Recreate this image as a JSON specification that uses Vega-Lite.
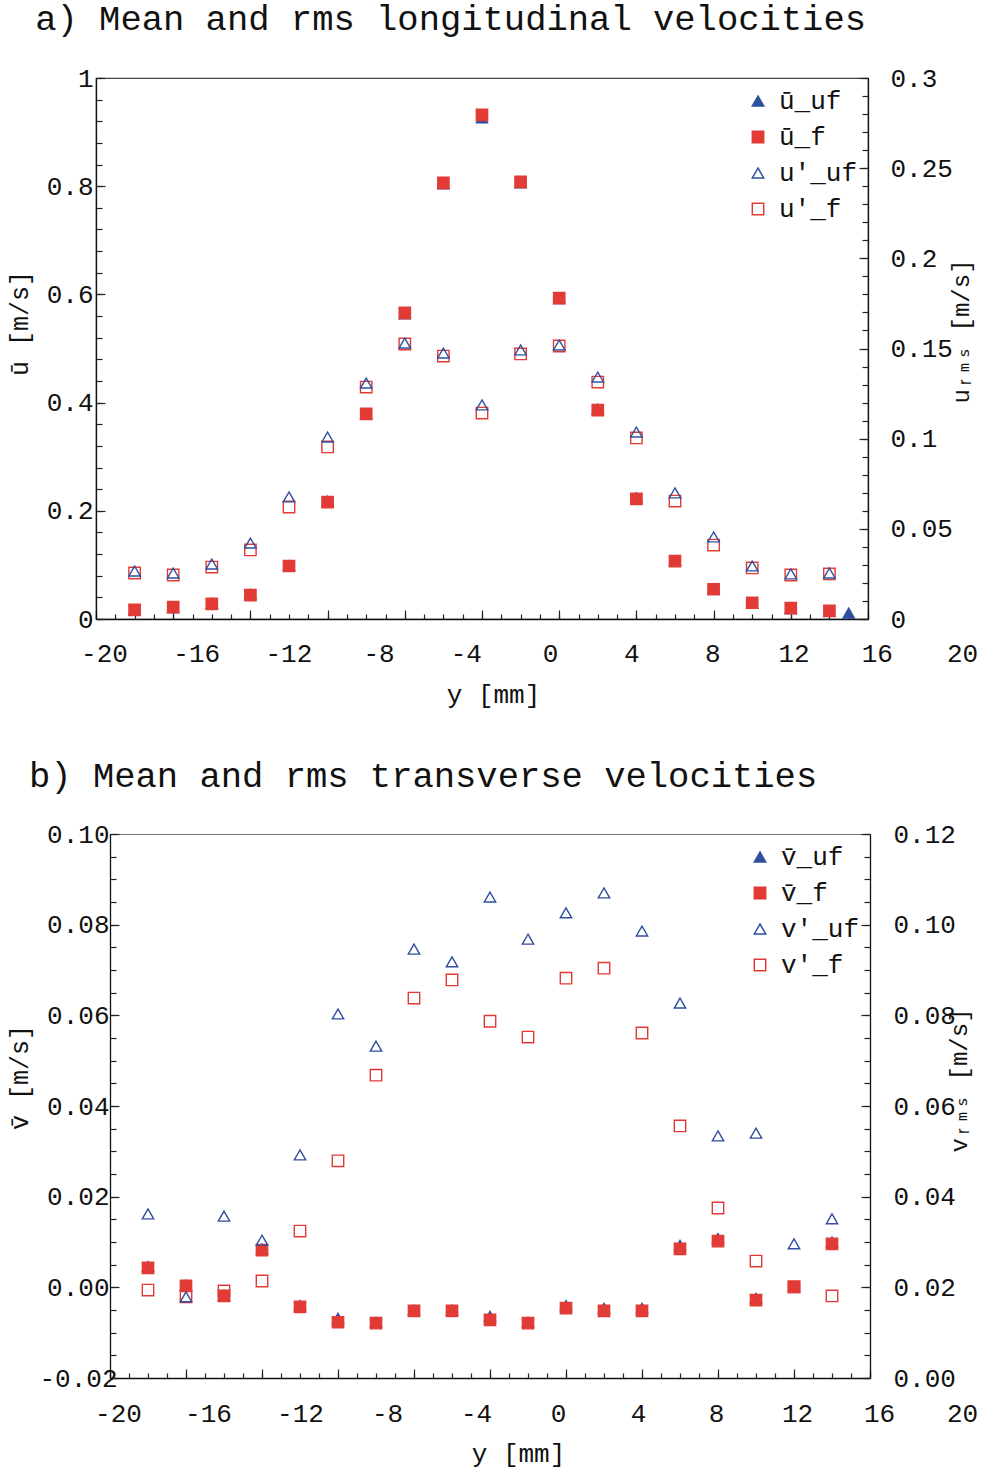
{
  "$schema": "https://vega.github.io/schema/vega-lite/v6.json",
  "padding": {"left": 6, "top": 0, "right": 2, "bottom": 2},
  "background": "white",
  "spacing": 50,
  "config": {
    "view": {"stroke": "#444", "strokeWidth": 1.2},
    "font": "Liberation Mono",
    "axis": {"labelFont": "Liberation Mono", "titleFont": "Liberation Mono", "labelFontSize": 26, "titleFontSize": 25, "titleFontWeight": "normal", "labelColor": "#111", "titleColor": "#111", "domainColor": "#111", "domainWidth": 1.3, "tickColor": "#222", "tickWidth": 1.2, "grid": false, "labelOverlap": false, "labelFlush": false, "labelBound": false},
    "legend": {"orient": "top-right", "offset": 10, "labelFont": "Liberation Mono", "labelFontSize": 26, "labelColor": "#111", "symbolSize": 130, "symbolStrokeWidth": 1.5, "rowPadding": 10, "labelOffset": 8, "padding": 0, "labelLimit": 0},
    "title": {"font": "Liberation Mono", "fontSize": 35.5, "fontWeight": "normal", "color": "#111", "anchor": "start"}
  },
  "resolve": {"scale": {"fill": "independent", "stroke": "independent", "shape": "independent"}, "legend": {"fill": "independent", "stroke": "independent", "shape": "independent"}},
  "vconcat": [
    {
      "width": 772, "height": 541,
      "title": {"text": "a) Mean and rms longitudinal velocities", "offset": 28, "dx": 28},
      "data": {"values": [
        {"k":"muf","s":"ū_uf","x":-18,"v":0.016},{"k":"muf","s":"ū_uf","x":-16,"v":0.021},{"k":"muf","s":"ū_uf","x":-14,"v":0.029},{"k":"muf","s":"ū_uf","x":-12,"v":0.046},{"k":"muf","s":"ū_uf","x":-10,"v":0.099},{"k":"muf","s":"ū_uf","x":-8,"v":0.218},{"k":"muf","s":"ū_uf","x":-6,"v":0.378},{"k":"muf","s":"ū_uf","x":-4,"v":0.564},{"k":"muf","s":"ū_uf","x":-2,"v":0.804},{"k":"muf","s":"ū_uf","x":0,"v":0.926},{"k":"muf","s":"ū_uf","x":2,"v":0.806},{"k":"muf","s":"ū_uf","x":4,"v":0.592},{"k":"muf","s":"ū_uf","x":6,"v":0.388},{"k":"muf","s":"ū_uf","x":8,"v":0.224},{"k":"muf","s":"ū_uf","x":10,"v":0.108},{"k":"muf","s":"ū_uf","x":12,"v":0.056},{"k":"muf","s":"ū_uf","x":14,"v":0.029},{"k":"muf","s":"ū_uf","x":16,"v":0.019},{"k":"muf","s":"ū_uf","x":18,"v":0.014},{"k":"muf","s":"ū_uf","x":19,"v":0.011},
        {"k":"mf","s":"ū_f","x":-18,"v":0.017},{"k":"mf","s":"ū_f","x":-16,"v":0.022},{"k":"mf","s":"ū_f","x":-14,"v":0.028},{"k":"mf","s":"ū_f","x":-12,"v":0.044},{"k":"mf","s":"ū_f","x":-10,"v":0.098},{"k":"mf","s":"ū_f","x":-8,"v":0.216},{"k":"mf","s":"ū_f","x":-6,"v":0.379},{"k":"mf","s":"ū_f","x":-4,"v":0.566},{"k":"mf","s":"ū_f","x":-2,"v":0.806},{"k":"mf","s":"ū_f","x":0,"v":0.932},{"k":"mf","s":"ū_f","x":2,"v":0.808},{"k":"mf","s":"ū_f","x":4,"v":0.593},{"k":"mf","s":"ū_f","x":6,"v":0.386},{"k":"mf","s":"ū_f","x":8,"v":0.222},{"k":"mf","s":"ū_f","x":10,"v":0.107},{"k":"mf","s":"ū_f","x":12,"v":0.055},{"k":"mf","s":"ū_f","x":14,"v":0.03},{"k":"mf","s":"ū_f","x":16,"v":0.02},{"k":"mf","s":"ū_f","x":18,"v":0.015},
        {"k":"ruf","s":"u'_uf","x":-18,"v":0.0266},{"k":"ruf","s":"u'_uf","x":-16,"v":0.0255},{"k":"ruf","s":"u'_uf","x":-14,"v":0.0305},{"k":"ruf","s":"u'_uf","x":-12,"v":0.0421},{"k":"ruf","s":"u'_uf","x":-10,"v":0.0677},{"k":"ruf","s":"u'_uf","x":-8,"v":0.1009},{"k":"ruf","s":"u'_uf","x":-6,"v":0.1308},{"k":"ruf","s":"u'_uf","x":-4,"v":0.153},{"k":"ruf","s":"u'_uf","x":-2,"v":0.1475},{"k":"ruf","s":"u'_uf","x":0,"v":0.1187},{"k":"ruf","s":"u'_uf","x":2,"v":0.1492},{"k":"ruf","s":"u'_uf","x":4,"v":0.1519},{"k":"ruf","s":"u'_uf","x":6,"v":0.1342},{"k":"ruf","s":"u'_uf","x":8,"v":0.1037},{"k":"ruf","s":"u'_uf","x":10,"v":0.0699},{"k":"ruf","s":"u'_uf","x":12,"v":0.0455},{"k":"ruf","s":"u'_uf","x":14,"v":0.0294},{"k":"ruf","s":"u'_uf","x":16,"v":0.025},{"k":"ruf","s":"u'_uf","x":18,"v":0.0255},
        {"k":"rf","s":"u'_f","x":-18,"v":0.0255},{"k":"rf","s":"u'_f","x":-16,"v":0.0244},{"k":"rf","s":"u'_f","x":-14,"v":0.0288},{"k":"rf","s":"u'_f","x":-12,"v":0.0383},{"k":"rf","s":"u'_f","x":-10,"v":0.0621},{"k":"rf","s":"u'_f","x":-8,"v":0.0954},{"k":"rf","s":"u'_f","x":-6,"v":0.1286},{"k":"rf","s":"u'_f","x":-4,"v":0.1525},{"k":"rf","s":"u'_f","x":-2,"v":0.1458},{"k":"rf","s":"u'_f","x":0,"v":0.1142},{"k":"rf","s":"u'_f","x":2,"v":0.147},{"k":"rf","s":"u'_f","x":4,"v":0.1514},{"k":"rf","s":"u'_f","x":6,"v":0.1314},{"k":"rf","s":"u'_f","x":8,"v":0.1004},{"k":"rf","s":"u'_f","x":10,"v":0.0654},{"k":"rf","s":"u'_f","x":12,"v":0.041},{"k":"rf","s":"u'_f","x":14,"v":0.0283},{"k":"rf","s":"u'_f","x":16,"v":0.0244},{"k":"rf","s":"u'_f","x":18,"v":0.025}
      ]},
      "resolve": {"scale": {"x": "independent", "y": "independent"}, "axis": {"x": "independent", "y": "independent"}},
      "layer": [
        {
          "transform": [{"filter": "datum.k == 'muf'"}],
          "mark": {"type": "point", "size": 130, "strokeWidth": 1.3, "opacity": 1},
          "encoding": {
            "x": {"field": "x", "type": "quantitative", "scale": {"domain": [-20, 20], "nice": false, "zero": false},
              "axis": {"orient": "bottom", "values": [-20,-16,-12,-8,-4,0,4,8,12,16,20], "tickSize": -9, "labelPadding": 30, "labelExpr": "'' + datum.value",
                "labelOffset": {"condition": [{"test": "datum.value == -20", "value": 8},{"test": "datum.value == -16", "value": 23},{"test": "datum.value == -12", "value": 38},{"test": "datum.value == -8", "value": 51},{"test": "datum.value == -4", "value": 61},{"test": "datum.value == 0", "value": 68},{"test": "datum.value == 4", "value": 72},{"test": "datum.value == 8", "value": 76},{"test": "datum.value == 12", "value": 80},{"test": "datum.value == 16", "value": 86}], "value": 94},
                "title": "y [mm]", "titleFontSize": 26, "titlePadding": 15, "titleX": 397}},
            "y": {"field": "v", "type": "quantitative", "scale": {"domain": [0, 1], "nice": false, "zero": false},
              "axis": {"orient": "left", "values": [0,0.2,0.4,0.6,0.8,1], "tickSize": -9, "labelPadding": 12, "format": "~g", "title": "ū [m/s]", "titlePadding": 14, "titleY": 245}},
            "fill": {"field": "s", "type": "nominal", "scale": {"domain": ["ū_uf","ū_f","u'_uf","u'_f"], "range": ["#2f4f9f","#e23b36","transparent","transparent"]}, "legend": {"title": null}},
            "stroke": {"field": "s", "type": "nominal", "scale": {"domain": ["ū_uf","ū_f","u'_uf","u'_f"], "range": ["#2f4f9f","#e23b36","#2f4f9f","#e23b36"]}, "legend": {"title": null}},
            "shape": {"field": "s", "type": "nominal", "scale": {"domain": ["ū_uf","ū_f","u'_uf","u'_f"], "range": ["triangle-up","square","triangle-up","square"]}, "legend": {"title": null}}
          }
        },
        {
          "transform": [{"filter": "datum.k == 'mf'"}],
          "mark": {"type": "point", "size": 130, "strokeWidth": 1.3, "opacity": 1},
          "encoding": {
            "x": {"field": "x", "type": "quantitative", "scale": {"domain": [-20, 20], "nice": false, "zero": false},
              "axis": {"orient": "bottom", "values": [-20,-19,-18,-17,-16,-15,-14,-13,-12,-11,-10,-9,-8,-7,-6,-5,-4,-3,-2,-1,0,1,2,3,4,5,6,7,8,9,10,11,12,13,14,15,16,17,18,19,20], "tickSize": -5, "labels": false, "domain": false, "title": null}},
            "y": {"field": "v", "type": "quantitative", "scale": {"domain": [0, 1], "nice": false, "zero": false},
              "axis": {"orient": "left", "values": [0,0.04,0.08,0.12,0.16,0.2,0.24,0.28,0.32,0.36,0.4,0.44,0.48,0.52,0.56,0.6,0.64,0.68,0.72,0.76,0.8,0.84,0.88,0.92,0.96,1], "tickSize": -6, "labels": false, "domain": false, "title": null}},
            "fill": {"field": "s", "type": "nominal", "scale": {"domain": ["ū_uf","ū_f","u'_uf","u'_f"], "range": ["#2f4f9f","#e23b36","transparent","transparent"]}, "legend": {"title": null}},
            "stroke": {"field": "s", "type": "nominal", "scale": {"domain": ["ū_uf","ū_f","u'_uf","u'_f"], "range": ["#2f4f9f","#e23b36","#2f4f9f","#e23b36"]}, "legend": {"title": null}},
            "shape": {"field": "s", "type": "nominal", "scale": {"domain": ["ū_uf","ū_f","u'_uf","u'_f"], "range": ["triangle-up","square","triangle-up","square"]}, "legend": {"title": null}}
          }
        },
        {
          "transform": [{"filter": "datum.k == 'rf'"}],
          "mark": {"type": "point", "size": 130, "strokeWidth": 1.4, "opacity": 1},
          "encoding": {
            "x": {"field": "x", "type": "quantitative", "scale": {"domain": [-20, 20], "nice": false, "zero": false}, "axis": null},
            "y": {"field": "v", "type": "quantitative", "scale": {"domain": [0, 0.3], "nice": false, "zero": false},
              "axis": {"orient": "right", "values": [0,0.05,0.1,0.15,0.2,0.25,0.3], "tickSize": -9, "labelPadding": 31, "format": "~g", "title": "uᵣₘₛ [m/s]", "titleFont": "Liberation Mono, DejaVu Sans Mono, DejaVu Sans", "titleAngle": -90, "titlePadding": 21, "titleY": 253, "titleFontSize": 24}},
            "fill": {"field": "s", "type": "nominal", "scale": {"domain": ["ū_uf","ū_f","u'_uf","u'_f"], "range": ["#2f4f9f","#e23b36","transparent","transparent"]}, "legend": {"title": null}},
            "stroke": {"field": "s", "type": "nominal", "scale": {"domain": ["ū_uf","ū_f","u'_uf","u'_f"], "range": ["#2f4f9f","#e23b36","#2f4f9f","#e23b36"]}, "legend": {"title": null}},
            "shape": {"field": "s", "type": "nominal", "scale": {"domain": ["ū_uf","ū_f","u'_uf","u'_f"], "range": ["triangle-up","square","triangle-up","square"]}, "legend": {"title": null}}
          }
        },
        {
          "transform": [{"filter": "datum.k == 'ruf'"}],
          "mark": {"type": "point", "size": 130, "strokeWidth": 1.4, "opacity": 1},
          "encoding": {
            "x": {"field": "x", "type": "quantitative", "scale": {"domain": [-20, 20], "nice": false, "zero": false}, "axis": null},
            "y": {"field": "v", "type": "quantitative", "scale": {"domain": [0, 0.3], "nice": false, "zero": false},
              "axis": {"orient": "right", "values": [0,0.01,0.02,0.03,0.04,0.05,0.06,0.07,0.08,0.09,0.1,0.11,0.12,0.13,0.14,0.15,0.16,0.17,0.18,0.19,0.2,0.21,0.22,0.23,0.24,0.25,0.26,0.27,0.28,0.29,0.3], "tickSize": -6, "labels": false, "domain": false, "title": null}},
            "fill": {"field": "s", "type": "nominal", "scale": {"domain": ["ū_uf","ū_f","u'_uf","u'_f"], "range": ["#2f4f9f","#e23b36","transparent","transparent"]}, "legend": {"title": null}},
            "stroke": {"field": "s", "type": "nominal", "scale": {"domain": ["ū_uf","ū_f","u'_uf","u'_f"], "range": ["#2f4f9f","#e23b36","#2f4f9f","#e23b36"]}, "legend": {"title": null}},
            "shape": {"field": "s", "type": "nominal", "scale": {"domain": ["ū_uf","ū_f","u'_uf","u'_f"], "range": ["triangle-up","square","triangle-up","square"]}, "legend": {"title": null}}
          }
        }
      ]
    },
    {
      "width": 774, "height": 544,
      "view": {"stroke": null},
      "title": {"text": "b) Mean and rms transverse velocities", "offset": 27, "dx": 21},
      "data": {"values": [
        {"k":"muf","s":"v̄_uf","x":-18,"v":0.0046},{"k":"muf","s":"v̄_uf","x":-16,"v":0.0005},{"k":"muf","s":"v̄_uf","x":-14,"v":-0.0017},{"k":"muf","s":"v̄_uf","x":-12,"v":0.0085},{"k":"muf","s":"v̄_uf","x":-10,"v":-0.004},{"k":"muf","s":"v̄_uf","x":-8,"v":-0.0068},{"k":"muf","s":"v̄_uf","x":-6,"v":-0.0077},{"k":"muf","s":"v̄_uf","x":-4,"v":-0.005},{"k":"muf","s":"v̄_uf","x":-2,"v":-0.005},{"k":"muf","s":"v̄_uf","x":0,"v":-0.0064},{"k":"muf","s":"v̄_uf","x":2,"v":-0.0077},{"k":"muf","s":"v̄_uf","x":4,"v":-0.004},{"k":"muf","s":"v̄_uf","x":6,"v":-0.0046},{"k":"muf","s":"v̄_uf","x":8,"v":-0.0046},{"k":"muf","s":"v̄_uf","x":10,"v":0.0093},{"k":"muf","s":"v̄_uf","x":12,"v":0.0108},{"k":"muf","s":"v̄_uf","x":14,"v":-0.0024},{"k":"muf","s":"v̄_uf","x":16,"v":0.0003},{"k":"muf","s":"v̄_uf","x":18,"v":0.01},
        {"k":"mf","s":"v̄_f","x":-18,"v":0.0043},{"k":"mf","s":"v̄_f","x":-16,"v":0.0003},{"k":"mf","s":"v̄_f","x":-14,"v":-0.0019},{"k":"mf","s":"v̄_f","x":-12,"v":0.0082},{"k":"mf","s":"v̄_f","x":-10,"v":-0.0043},{"k":"mf","s":"v̄_f","x":-8,"v":-0.0077},{"k":"mf","s":"v̄_f","x":-6,"v":-0.0079},{"k":"mf","s":"v̄_f","x":-4,"v":-0.0052},{"k":"mf","s":"v̄_f","x":-2,"v":-0.0052},{"k":"mf","s":"v̄_f","x":0,"v":-0.0072},{"k":"mf","s":"v̄_f","x":2,"v":-0.0079},{"k":"mf","s":"v̄_f","x":4,"v":-0.0046},{"k":"mf","s":"v̄_f","x":6,"v":-0.0052},{"k":"mf","s":"v̄_f","x":8,"v":-0.0052},{"k":"mf","s":"v̄_f","x":10,"v":0.0085},{"k":"mf","s":"v̄_f","x":12,"v":0.0102},{"k":"mf","s":"v̄_f","x":14,"v":-0.0028},{"k":"mf","s":"v̄_f","x":16,"v":0.0001},{"k":"mf","s":"v̄_f","x":18,"v":0.0096},
        {"k":"ruf","s":"v'_uf","x":-18,"v":0.0362},{"k":"ruf","s":"v'_uf","x":-16,"v":0.0179},{"k":"ruf","s":"v'_uf","x":-14,"v":0.0357},{"k":"ruf","s":"v'_uf","x":-12,"v":0.0304},{"k":"ruf","s":"v'_uf","x":-10,"v":0.0492},{"k":"ruf","s":"v'_uf","x":-8,"v":0.0803},{"k":"ruf","s":"v'_uf","x":-6,"v":0.0732},{"k":"ruf","s":"v'_uf","x":-4,"v":0.0946},{"k":"ruf","s":"v'_uf","x":-2,"v":0.0918},{"k":"ruf","s":"v'_uf","x":0,"v":0.1061},{"k":"ruf","s":"v'_uf","x":2,"v":0.0968},{"k":"ruf","s":"v'_uf","x":4,"v":0.1026},{"k":"ruf","s":"v'_uf","x":6,"v":0.107},{"k":"ruf","s":"v'_uf","x":8,"v":0.0986},{"k":"ruf","s":"v'_uf","x":10,"v":0.0827},{"k":"ruf","s":"v'_uf","x":12,"v":0.0534},{"k":"ruf","s":"v'_uf","x":14,"v":0.054},{"k":"ruf","s":"v'_uf","x":16,"v":0.0296},{"k":"ruf","s":"v'_uf","x":18,"v":0.0351},
        {"k":"rf","s":"v'_f","x":-18,"v":0.0194},{"k":"rf","s":"v'_f","x":-16,"v":0.0179},{"k":"rf","s":"v'_f","x":-14,"v":0.0192},{"k":"rf","s":"v'_f","x":-12,"v":0.0214},{"k":"rf","s":"v'_f","x":-10,"v":0.0324},{"k":"rf","s":"v'_f","x":-8,"v":0.0479},{"k":"rf","s":"v'_f","x":-6,"v":0.0668},{"k":"rf","s":"v'_f","x":-4,"v":0.0838},{"k":"rf","s":"v'_f","x":-2,"v":0.0878},{"k":"rf","s":"v'_f","x":0,"v":0.0787},{"k":"rf","s":"v'_f","x":2,"v":0.0752},{"k":"rf","s":"v'_f","x":4,"v":0.0882},{"k":"rf","s":"v'_f","x":6,"v":0.0904},{"k":"rf","s":"v'_f","x":8,"v":0.0761},{"k":"rf","s":"v'_f","x":10,"v":0.0556},{"k":"rf","s":"v'_f","x":12,"v":0.0375},{"k":"rf","s":"v'_f","x":14,"v":0.0258},{"k":"rf","s":"v'_f","x":16,"v":0.0201},{"k":"rf","s":"v'_f","x":18,"v":0.0181}
      ]},
      "resolve": {"scale": {"x": "independent", "y": "independent"}, "axis": {"x": "independent", "y": "independent"}},
      "layer": [
        {
          "transform": [{"filter": "datum.k == 'muf'"}],
          "mark": {"type": "point", "size": 130, "strokeWidth": 1.3, "opacity": 1},
          "encoding": {
            "x": {"field": "x", "type": "quantitative", "scale": {"domain": [-20, 20], "range": [14, 774], "nice": false, "zero": false},
              "axis": {"orient": "bottom", "values": [-20,-16,-12,-8,-4,0,4,8,12,16,20], "tickSize": -9, "labelPadding": 31, "labelExpr": "'' + datum.value",
                "labelOffset": {"condition": [{"test": "datum.value == -20", "value": 8},{"test": "datum.value == -16", "value": 22},{"test": "datum.value == -12", "value": 38},{"test": "datum.value == -8", "value": 49},{"test": "datum.value == -4", "value": 62},{"test": "datum.value == 0", "value": 68},{"test": "datum.value == 4", "value": 72},{"test": "datum.value == 8", "value": 74},{"test": "datum.value == 12", "value": 79},{"test": "datum.value == 16", "value": 85}], "value": 92},
                "title": "y [mm]", "titleFontSize": 26, "titlePadding": 14, "titleX": 422}},
            "y": {"field": "v", "type": "quantitative", "scale": {"domain": [-0.02, 0.1], "nice": false, "zero": false},
              "axis": {"orient": "left", "offset": -14, "values": [-0.02,0,0.02,0.04,0.06,0.08,0.1], "tickSize": -9, "labelPadding": {"condition": {"test": "datum.value < -0.01", "value": 2}, "value": 10}, "labelExpr": "replace(format(datum.value, '.2f'), '−', '-')", "title": "v̄ [m/s]", "titlePadding": 6, "titleY": 243}},
            "fill": {"field": "s", "type": "nominal", "scale": {"domain": ["v̄_uf","v̄_f","v'_uf","v'_f"], "range": ["#2f4f9f","#e23b36","transparent","transparent"]}, "legend": {"title": null}},
            "stroke": {"field": "s", "type": "nominal", "scale": {"domain": ["v̄_uf","v̄_f","v'_uf","v'_f"], "range": ["#2f4f9f","#e23b36","#2f4f9f","#e23b36"]}, "legend": {"title": null}},
            "shape": {"field": "s", "type": "nominal", "scale": {"domain": ["v̄_uf","v̄_f","v'_uf","v'_f"], "range": ["triangle-up","square","triangle-up","square"]}, "legend": {"title": null}}
          }
        },
        {
          "transform": [{"filter": "datum.k == 'mf'"}],
          "mark": {"type": "point", "size": 130, "strokeWidth": 1.3, "opacity": 1},
          "encoding": {
            "x": {"field": "x", "type": "quantitative", "scale": {"domain": [-20, 20], "range": [14, 774], "nice": false, "zero": false},
              "axis": {"orient": "bottom", "values": [-20,-19,-18,-17,-16,-15,-14,-13,-12,-11,-10,-9,-8,-7,-6,-5,-4,-3,-2,-1,0,1,2,3,4,5,6,7,8,9,10,11,12,13,14,15,16,17,18,19,20], "tickSize": -5, "labels": false, "domain": false, "title": null}},
            "y": {"field": "v", "type": "quantitative", "scale": {"domain": [-0.02, 0.1], "nice": false, "zero": false},
              "axis": {"orient": "left", "offset": -14, "values": [-0.02,-0.015,-0.01,-0.005,0,0.005,0.01,0.015,0.02,0.025,0.03,0.035,0.04,0.045,0.05,0.055,0.06,0.065,0.07,0.075,0.08,0.085,0.09,0.095,0.1], "tickSize": -6, "labels": false, "domain": false, "title": null}},
            "fill": {"field": "s", "type": "nominal", "scale": {"domain": ["v̄_uf","v̄_f","v'_uf","v'_f"], "range": ["#2f4f9f","#e23b36","transparent","transparent"]}, "legend": {"title": null}},
            "stroke": {"field": "s", "type": "nominal", "scale": {"domain": ["v̄_uf","v̄_f","v'_uf","v'_f"], "range": ["#2f4f9f","#e23b36","#2f4f9f","#e23b36"]}, "legend": {"title": null}},
            "shape": {"field": "s", "type": "nominal", "scale": {"domain": ["v̄_uf","v̄_f","v'_uf","v'_f"], "range": ["triangle-up","square","triangle-up","square"]}, "legend": {"title": null}}
          }
        },
        {
          "transform": [{"filter": "datum.k == 'rf'"}],
          "mark": {"type": "point", "size": 130, "strokeWidth": 1.4, "opacity": 1},
          "encoding": {
            "x": {"field": "x", "type": "quantitative", "scale": {"domain": [-20, 20], "range": [14, 774], "nice": false, "zero": false},
              "axis": {"orient": "top", "labels": false, "ticks": false, "title": null, "domainColor": "#777", "domainWidth": 1.2}},
            "y": {"field": "v", "type": "quantitative", "scale": {"domain": [0, 0.12], "nice": false, "zero": false},
              "axis": {"orient": "right", "values": [0,0.02,0.04,0.06,0.08,0.1,0.12], "tickSize": -9, "labelPadding": 32, "format": ".2f", "title": "vᵣₘₛ [m/s]", "titleFont": "Liberation Mono, DejaVu Sans Mono, DejaVu Sans", "titleAngle": -90, "titlePadding": 16, "titleY": 246, "titleFontSize": 24}},
            "fill": {"field": "s", "type": "nominal", "scale": {"domain": ["v̄_uf","v̄_f","v'_uf","v'_f"], "range": ["#2f4f9f","#e23b36","transparent","transparent"]}, "legend": {"title": null}},
            "stroke": {"field": "s", "type": "nominal", "scale": {"domain": ["v̄_uf","v̄_f","v'_uf","v'_f"], "range": ["#2f4f9f","#e23b36","#2f4f9f","#e23b36"]}, "legend": {"title": null}},
            "shape": {"field": "s", "type": "nominal", "scale": {"domain": ["v̄_uf","v̄_f","v'_uf","v'_f"], "range": ["triangle-up","square","triangle-up","square"]}, "legend": {"title": null}}
          }
        },
        {
          "transform": [{"filter": "datum.k == 'ruf'"}],
          "mark": {"type": "point", "size": 130, "strokeWidth": 1.4, "opacity": 1},
          "encoding": {
            "x": {"field": "x", "type": "quantitative", "scale": {"domain": [-20, 20], "range": [14, 774], "nice": false, "zero": false}, "axis": null},
            "y": {"field": "v", "type": "quantitative", "scale": {"domain": [0, 0.12], "nice": false, "zero": false},
              "axis": {"orient": "right", "values": [0,0.005,0.01,0.015,0.02,0.025,0.03,0.035,0.04,0.045,0.05,0.055,0.06,0.065,0.07,0.075,0.08,0.085,0.09,0.095,0.1,0.105,0.11,0.115,0.12], "tickSize": -6, "labels": false, "domain": false, "title": null}},
            "fill": {"field": "s", "type": "nominal", "scale": {"domain": ["v̄_uf","v̄_f","v'_uf","v'_f"], "range": ["#2f4f9f","#e23b36","transparent","transparent"]}, "legend": {"title": null}},
            "stroke": {"field": "s", "type": "nominal", "scale": {"domain": ["v̄_uf","v̄_f","v'_uf","v'_f"], "range": ["#2f4f9f","#e23b36","#2f4f9f","#e23b36"]}, "legend": {"title": null}},
            "shape": {"field": "s", "type": "nominal", "scale": {"domain": ["v̄_uf","v̄_f","v'_uf","v'_f"], "range": ["triangle-up","square","triangle-up","square"]}, "legend": {"title": null}}
          }
        }
      ]
    }
  ]
}
